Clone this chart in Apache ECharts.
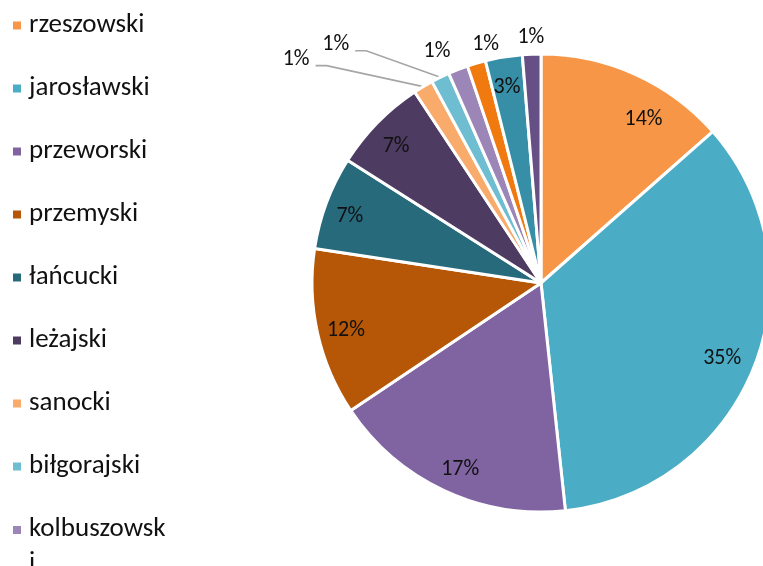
<!DOCTYPE html>
<html>
<head>
<meta charset="utf-8">
<script src="https://cdn.jsdelivr.net/npm/echarts@6/dist/echarts.min.js"></script>
<style>
html,body{margin:0;padding:0;background:#fff;}
#chart{width:763px;height:566px;}
</style>
</head>
<body>
<div id="chart"></div>
<script>
// ---- data ----
const categories = ['rzeszowski','jarosławski','przeworski','przemyski','łańcucki','leżajski','sanocki','biłgorajski','kolbuszowski','strzyżowski','lubaczowski','niżański'];
const values = [13.5, 34.8, 17.3, 11.8, 6.6, 6.7, 1.4, 1.3, 1.4, 1.3, 2.6, 1.3];

// ---- styles ----
const colors = ['#F79646','#4BACC6','#8064A2','#B65708','#276A7C','#4D3B62','#F9AB6B','#6FBDD1','#9B86B7','#F07A10','#378EA7','#654F85'];
const labelMode = ['in','in','in','in','in','in','out','out','out','out','in','out'];
const leader = [false,false,false,false,false,false,true,true,false,false,false,false];
const outLen = [0,0,0,0,0,0,24.5,29.7,21,22,0,19];
const outLen2 = [0,0,0,0,0,0,95,72,0,0,0,0];
const outAlign = ['center','center','center','center','center','center','right','right','right','left','center','center'];
// small label nudges (px) to mimic best-fit placement
const nudge = [[19,22],[-8,2],[5,3],[3,3],[-1,5],[0,6],[0,-5.7],[0,-5.7],[0,2],[2,2],[-1,5],[0,2]];

const FONT = 'Carlito, Calibri, Lato, sans-serif';
const fmt = p => Math.round(p.value) + '%';

const chart = echarts.init(document.getElementById('chart'), null, {renderer:'canvas'});

const mainData = categories.map((n,i) => {
  const o = { name:n, value:values[i], itemStyle:{color:colors[i]} };
  if (labelMode[i] === 'out') {
    o.label = { show:true, position:'outside', distanceToLabelLine: leader[i] ? 6 : 0 };
    o.labelLine = { show: leader[i], length: outLen[i], length2: outLen2[i] };
  } else {
    o.label = { show:false };
    o.labelLine = { show:false };
  }
  return o;
});
const ringData = categories.map((n,i) => ({
  name:n, value:values[i],
  label:{ show: labelMode[i] === 'in' }
}));

function layoutLabels(p) {
  const i = p.dataIndex;
  const res = { dx: nudge[i][0], dy: nudge[i][1] };
  if (p.seriesIndex === 0) {
    res.align = outAlign[i];
    const pts = p.labelLinePoints;
    if (leader[i] && pts && pts.length === 3) {
      const end = pts[2];
      res.labelLinePoints = [pts[0], [end[0] + 11, end[1]], end];
    }
  }
  return res;
}

chart.setOption({
  animation:false,
  color: colors,
  legend:{
    orient:'vertical', left:11, top:11, padding:0, height:1500,
    itemWidth:10, itemHeight:10, itemGap:34,
    icon:'rect',
    data: categories,
    formatter: n => n.length > 11 ? '{a|' + n.slice(0,11) + '}\n{b|' + n.slice(11) + '}' : n,
    textStyle:{ fontFamily:FONT, fontSize:27, color:'#111', lineHeight:29, padding:[0,0,0,2],
      rich:{ a:{ fontFamily:FONT, fontSize:27, color:'#111', lineHeight:29 },
             b:{ fontFamily:FONT, fontSize:27, color:'#111', lineHeight:1, verticalAlign:'top', padding:[6,0,0,0] } } }
  },
  series:[
    {
      type:'pie', name:'main',
      center:[541,283], radius:229,
      startAngle:90, clockwise:true,
      avoidLabelOverlap:false,
      itemStyle:{ borderColor:'#fff', borderWidth:3 },
      label:{ formatter:fmt, fontFamily:FONT, fontSize:22, color:'#111' },
      labelLine:{ lineStyle:{ color:'#A6A6A6', width:1.6 }, smooth:false },
      labelLayout: layoutLabels,
      emphasis:{ disabled:true },
      data: mainData
    },
    {
      type:'pie', name:'labels',
      center:[541,283], radius:[171,229],
      startAngle:90, clockwise:true,
      silent:true,
      avoidLabelOverlap:false,
      itemStyle:{ color:'rgba(0,0,0,0)', borderWidth:0 },
      label:{ position:'inside', formatter:fmt, fontFamily:FONT, fontSize:22, color:'#111' },
      labelLine:{ show:false },
      labelLayout: layoutLabels,
      emphasis:{ disabled:true },
      data: ringData
    }
  ]
});
</script>
</body>
</html>
